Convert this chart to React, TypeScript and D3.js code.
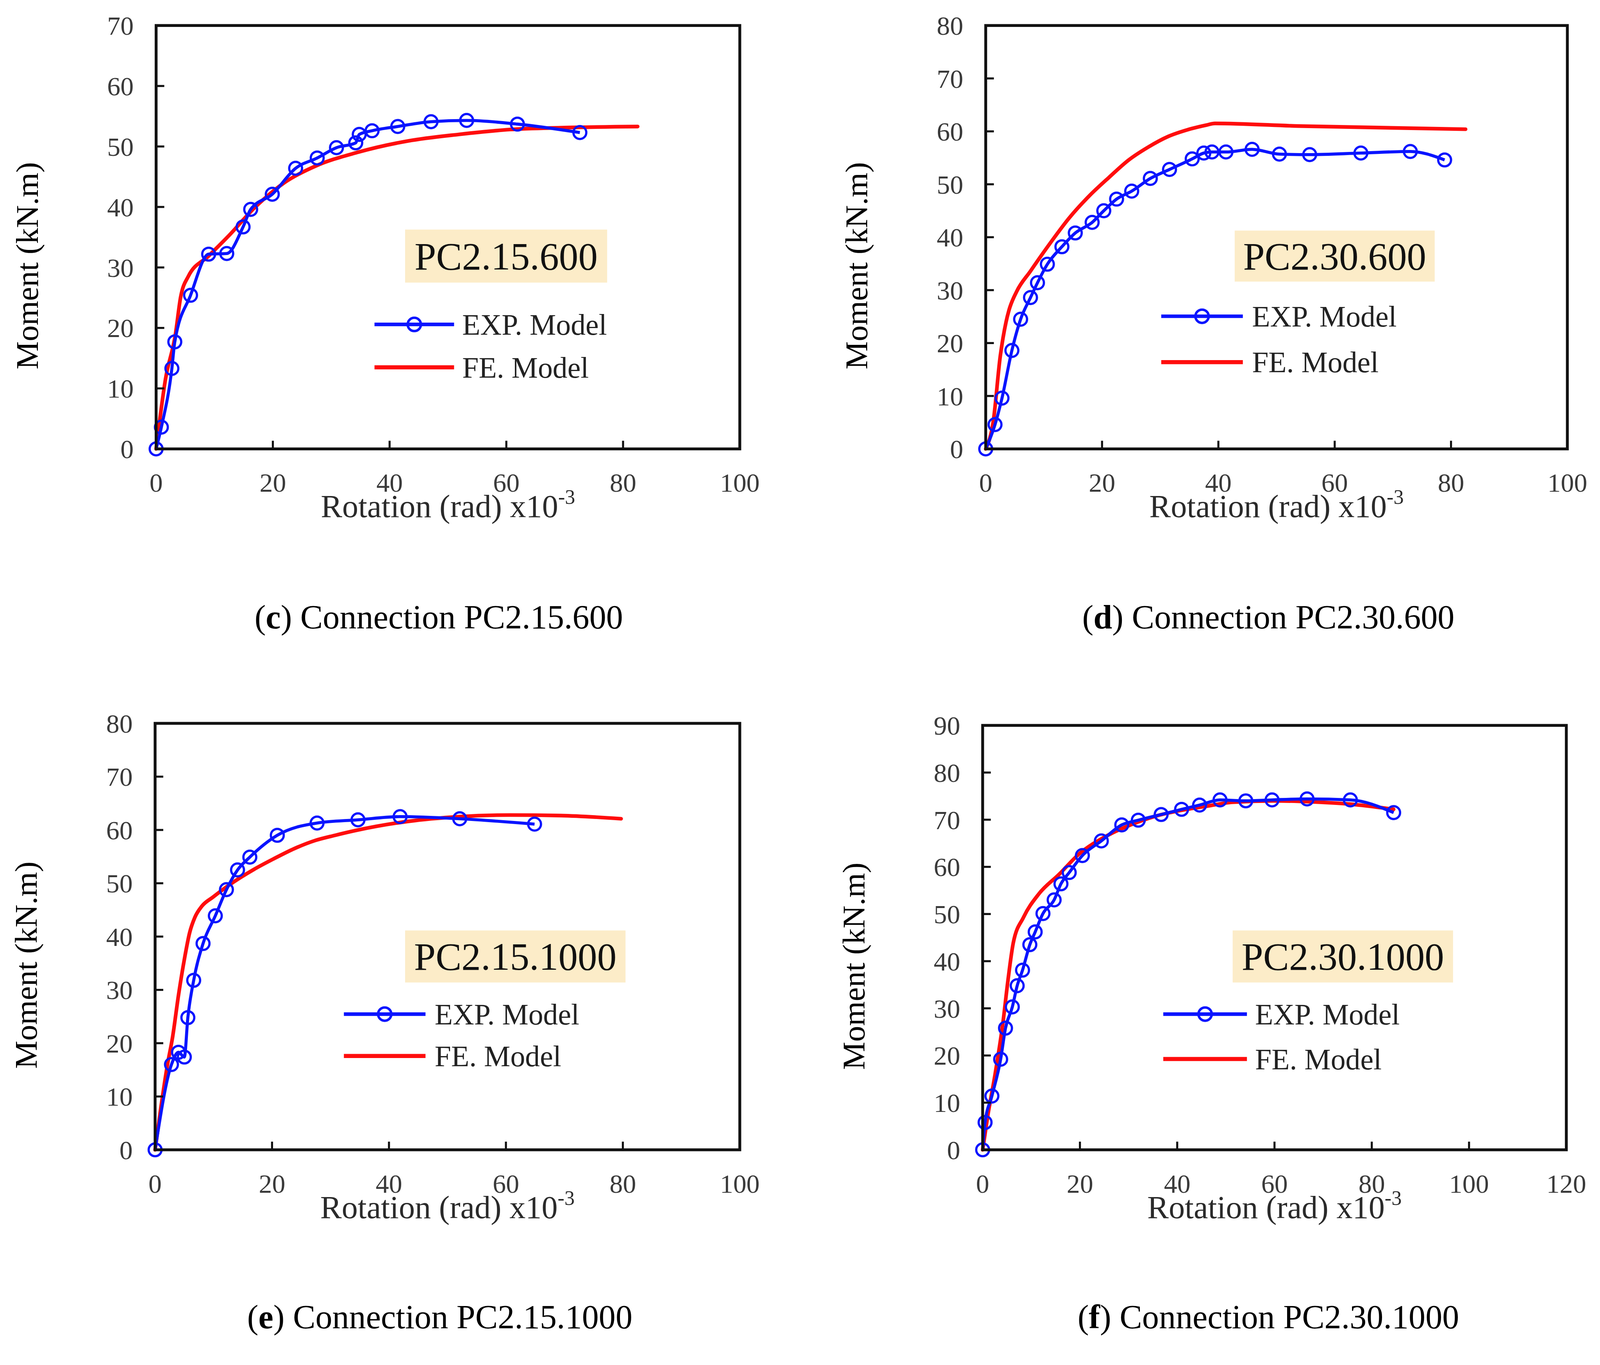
import React from 'react';
import * as d3 from 'd3';

// ---------- data ----------
const X_TICKS_100 = [0, 20, 40, 60, 80, 100];
const X_TICKS_120 = [0, 20, 40, 60, 80, 100, 120];
const Y_TICKS_70 = [0, 10, 20, 30, 40, 50, 60, 70];
const Y_TICKS_80 = [0, 10, 20, 30, 40, 50, 60, 70, 80];
const Y_TICKS_90 = [0, 10, 20, 30, 40, 50, 60, 70, 80, 90];

const LEGEND_EXP = 'EXP. Model';
const LEGEND_FE = 'FE. Model';
const X_LABEL = 'Rotation (rad) x10';
const X_LABEL_EXP = '-3';
const Y_LABEL = 'Moment (kN.m)';

// (c) PC2.15.600
const cExpX = [0, 0.9, 2.7, 3.2, 5.9, 9.0, 12.1, 14.9, 16.2, 19.9, 23.9, 27.6, 30.9, 34.2, 34.8, 37.0, 41.4, 47.1, 53.2, 61.9, 72.6];
const cExpY = [0, 3.6, 13.3, 17.7, 25.4, 32.2, 32.3, 36.7, 39.6, 42.1, 46.4, 48.1, 49.8, 50.6, 52.0, 52.6, 53.3, 54.1, 54.3, 53.7, 52.3];
const cFeX = [0, 1.6, 3.3, 4.2, 5.5, 9.0, 12.5, 16.9, 22.1, 27.4, 34.4, 43.1, 51.9, 60.6, 69.3, 82.5];
const cFeY = [0, 11.5, 18.9, 25.1, 28.5, 31.9, 35.3, 39.9, 44.1, 46.8, 49.0, 50.9, 52.0, 52.8, 53.1, 53.3];

// (d) PC2.30.600
const dExpX = [0, 1.6, 2.8, 4.5, 6.0, 7.7, 8.9, 10.6, 13.1, 15.4, 18.3, 20.3, 22.5, 25.1, 28.3, 31.6, 35.5, 37.5, 38.9, 41.3, 45.8, 50.5, 55.7, 64.5, 73.0, 78.9];
const dExpY = [0, 4.6, 9.6, 18.6, 24.5, 28.6, 31.4, 34.9, 38.2, 40.8, 42.8, 45.0, 47.2, 48.7, 51.1, 52.8, 54.8, 55.9, 56.1, 56.1, 56.6, 55.7, 55.6, 55.9, 56.2, 54.6];
const dFeX = [0, 1.3, 2.5, 3.5, 4.0, 5.3, 7.7, 11.1, 14.4, 17.8, 21.2, 24.6, 27.9, 31.3, 34.7, 38.0, 39.4, 53.8, 82.5];
const dFeY = [0, 5.2, 17.5, 24.0, 26.2, 29.7, 33.6, 38.9, 43.7, 47.8, 51.3, 54.6, 57.0, 59.0, 60.3, 61.2, 61.5, 61.0, 60.4];

// (e) PC2.15.1000
const eExpX = [0, 2.8, 4.0, 5.0, 5.6, 6.6, 8.2, 10.3, 12.2, 14.1, 16.2, 20.9, 27.7, 34.7, 41.9, 52.1, 64.9];
const eExpY = [0, 16.0, 18.3, 17.4, 24.8, 31.8, 38.7, 43.9, 48.8, 52.5, 54.9, 59.0, 61.3, 61.9, 62.5, 62.1, 61.1];
const eFeX = [0, 1.0, 2.1, 3.0, 4.0, 5.0, 5.9, 6.8, 8.0, 9.9, 12.7, 16.9, 20.3, 23.8, 27.3, 30.8, 34.3, 43.2, 52.0, 60.7, 69.4, 79.7];
const eFeY = [0, 8.0, 15.9, 21.2, 29.0, 35.7, 40.7, 43.6, 45.7, 47.4, 49.7, 52.6, 54.6, 56.5, 58.0, 59.0, 59.9, 61.6, 62.5, 62.8, 62.7, 62.1];

// (f) PC2.30.1000
const fExpX = [0, 0.5, 1.9, 3.7, 4.7, 6.1, 7.1, 8.2, 9.7, 10.8, 12.4, 14.7, 16.1, 17.8, 20.5, 24.4, 28.6, 32.0, 36.7, 40.9, 44.6, 48.8, 54.1, 59.5, 66.7, 75.6, 84.5];
const fExpY = [0, 5.8, 11.4, 19.2, 25.8, 30.3, 34.8, 38.1, 43.5, 46.2, 50.1, 53.0, 56.4, 58.8, 62.4, 65.5, 68.9, 69.9, 71.1, 72.2, 73.1, 74.2, 74.0, 74.2, 74.4, 74.2, 71.5];
const fFeX = [0, 1.0, 2.6, 4.2, 5.2, 6.3, 8.4, 11.5, 15.7, 19.9, 25.2, 30.4, 35.7, 40.9, 46.2, 51.4, 59.8, 67.2, 75.6, 84.5];
const fFeY = [0, 6.9, 16.3, 27.2, 35.9, 43.9, 49.3, 54.2, 58.4, 62.8, 66.4, 68.9, 70.8, 72.0, 72.9, 73.7, 74.0, 73.8, 73.3, 72.2];

// ---------- layout (in a 1568 x 1320.6 drawing space, scaled to the full viewport) ----------
const VW = 1568;
const VH = 1320.6;
const FONT = "'Liberation Serif', 'Times New Roman', serif";
const BLUE = '#0a14ff';
const RED = '#ff0d0d';
const BOX_FILL = '#fcecc8';

type PanelCfg = {
  letter: string;
  name: string;
  x0: number; x1: number; y0: number; y1: number;
  xTicks: number[]; yTicks: number[];
  expX: number[]; expY: number[]; feX: number[]; feY: number[];
  box: [number, number, number, number];
  legX0: number; legX1: number; legTextX: number; legY1: number; legY2: number;
  capX: number; capY: number;
};

const PANELS: PanelCfg[] = [
  {
    letter: 'c', name: 'PC2.15.600',
    x0: 153, x1: 725, y0: 25, y1: 440,
    xTicks: X_TICKS_100, yTicks: Y_TICKS_70,
    expX: cExpX, expY: cExpY, feX: cFeX, feY: cFeY,
    box: [397, 225, 198, 52],
    legX0: 367, legX1: 445, legTextX: 453, legY1: 318, legY2: 360,
    capX: 430, capY: 616,
  },
  {
    letter: 'd', name: 'PC2.30.600',
    x0: 966, x1: 1536, y0: 25, y1: 440,
    xTicks: X_TICKS_100, yTicks: Y_TICKS_80,
    expX: dExpX, expY: dExpY, feX: dFeX, feY: dFeY,
    box: [1210, 226, 196, 50],
    legX0: 1138, legX1: 1218, legTextX: 1227, legY1: 310, legY2: 355,
    capX: 1243, capY: 616,
  },
  {
    letter: 'e', name: 'PC2.15.1000',
    x0: 152, x1: 725, y0: 709, y1: 1127,
    xTicks: X_TICKS_100, yTicks: Y_TICKS_80,
    expX: eExpX, expY: eExpY, feX: eFeX, feY: eFeY,
    box: [397, 912, 216, 51],
    legX0: 337, legX1: 417, legTextX: 426, legY1: 994, legY2: 1035,
    capX: 431, capY: 1302,
  },
  {
    letter: 'f', name: 'PC2.30.1000',
    x0: 963, x1: 1535, y0: 711, y1: 1127,
    xTicks: X_TICKS_120, yTicks: Y_TICKS_90,
    expX: fExpX, expY: fExpY, feX: fFeX, feY: fFeY,
    box: [1208, 912, 216, 51],
    legX0: 1140, legX1: 1222, legTextX: 1230, legY1: 994, legY2: 1038,
    capX: 1243, capY: 1302,
  },
];

function Panel({ p }: { p: PanelCfg }) {
  const xMax = p.xTicks[p.xTicks.length - 1];
  const yMax = p.yTicks[p.yTicks.length - 1];
  const x = d3.scaleLinear().domain([0, xMax]).range([p.x0, p.x1]);
  const y = d3.scaleLinear().domain([0, yMax]).range([p.y1, p.y0]);

  const expPts: [number, number][] = p.expX.map((v, i) => [v, p.expY[i]]);
  const fePts: [number, number][] = p.feX.map((v, i) => [v, p.feY[i]]);
  const line = d3
    .line<[number, number]>()
    .x((d) => x(d[0]))
    .y((d) => y(d[1]))
    .curve(d3.curveMonotoneX);

  const tickLen = 8;
  const tickFont = 26;
  const [bx, by, bw, bh] = p.box;
  const xMid = (p.x0 + p.x1) / 2;
  const yMid = (p.y0 + p.y1) / 2 + 28;

  return (
    <g>
      {/* FE curve */}
      <path d={line(fePts) || ''} fill="none" stroke={RED} strokeWidth={3.6} strokeLinejoin="round" strokeLinecap="round" />
      {/* EXP curve */}
      <path d={line(expPts) || ''} fill="none" stroke={BLUE} strokeWidth={3} strokeLinejoin="round" />
      {expPts.map((d, i) => (
        <circle key={i} cx={x(d[0])} cy={y(d[1])} r={6.3} fill="none" stroke={BLUE} strokeWidth={2.2} />
      ))}

      {/* frame */}
      <rect x={p.x0} y={p.y0} width={p.x1 - p.x0} height={p.y1 - p.y0} fill="none" stroke="#111" strokeWidth={2.8} />
      {p.xTicks.map((t) => (
        <g key={'xt' + t}>
          <line x1={x(t)} x2={x(t)} y1={p.y1} y2={p.y1 - tickLen} stroke="#111" strokeWidth={2} />
          <text x={x(t)} y={p.y1 + 33 + tickFont * 0.35} textAnchor="middle" fontFamily={FONT} fontSize={tickFont} fill="#3a3a3a">
            {t}
          </text>
        </g>
      ))}
      {p.yTicks.map((t) => (
        <g key={'yt' + t}>
          <line x1={p.x0} x2={p.x0 + tickLen} y1={y(t)} y2={y(t)} stroke="#111" strokeWidth={2} />
          <text x={p.x0 - 22} y={y(t) + tickFont * 0.35} textAnchor="end" fontFamily={FONT} fontSize={tickFont} fill="#3a3a3a">
            {t}
          </text>
        </g>
      ))}

      {/* axis titles */}
      <text x={xMid} y={p.y1 + 67} textAnchor="middle" fontFamily={FONT} fontSize={31.5} fill="#2a2a2a">
        {X_LABEL}
        <tspan fontSize={20} dy={-13}>{X_LABEL_EXP}</tspan>
      </text>
      <text
        transform={`translate(${p.x0 - 116}, ${yMid}) rotate(-90)`}
        textAnchor="middle"
        fontFamily={FONT}
        fontSize={31}
        fill="#000"
      >
        {Y_LABEL}
      </text>

      {/* specimen label box */}
      <rect x={bx} y={by} width={bw} height={bh} fill={BOX_FILL} />
      <text x={bx + bw / 2} y={by + bh / 2 + 13} textAnchor="middle" fontFamily={FONT} fontSize={38} fill="#111">
        {p.name}
      </text>

      {/* legend */}
      <line x1={p.legX0} x2={p.legX1} y1={p.legY1} y2={p.legY1} stroke={BLUE} strokeWidth={3.5} />
      <circle cx={(p.legX0 + p.legX1) / 2} cy={p.legY1} r={6.5} fill="none" stroke={BLUE} strokeWidth={2.4} />
      <text x={p.legTextX} y={p.legY1 + 10} fontFamily={FONT} fontSize={29} fill="#222">
        {LEGEND_EXP}
      </text>
      <line x1={p.legX0} x2={p.legX1} y1={p.legY2} y2={p.legY2} stroke={RED} strokeWidth={4} />
      <text x={p.legTextX} y={p.legY2 + 10} fontFamily={FONT} fontSize={29} fill="#222">
        {LEGEND_FE}
      </text>

      {/* caption */}
      <text x={p.capX} y={p.capY} textAnchor="middle" fontFamily={FONT} fontSize={33} fill="#000">
        (<tspan fontWeight="bold">{p.letter}</tspan>) Connection {p.name}
      </text>
    </g>
  );
}

export default function App() {
  return (
    <svg
      viewBox={`0 0 ${VW} ${VH}`}
      preserveAspectRatio="xMidYMin meet"
      style={{ position: 'fixed', left: 0, top: 0, width: '100vw', height: '100vh', display: 'block', background: '#fff' }}
      xmlns="http://www.w3.org/2000/svg"
    >
      <rect x={0} y={0} width={VW} height={VH} fill="#fff" />
      {PANELS.map((p) => (
        <Panel key={p.letter} p={p} />
      ))}
    </svg>
  );
}
